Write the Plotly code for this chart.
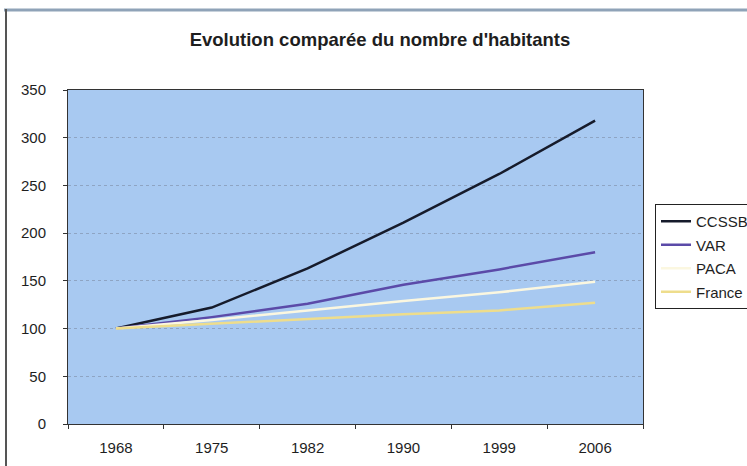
import plotly.graph_objects as go

# Population index, base 100 in 1968
years = ["1968", "1975", "1982", "1990", "1999", "2006"]
ccssb = [100, 122, 163, 211, 262, 318]
var = [100, 112, 126, 146, 162, 180]
paca = [100, 109, 119, 129, 138, 149]
france = [100, 105, 110, 115, 119, 127]

series = [
    ("CCSSB", ccssb, "#161b2b"),
    ("VAR", var, "#5b4aa8"),
    ("PACA", paca, "#fbf7e0"),
    ("France", france, "#eedd8c"),
]

W, H = 747, 466
L, R, T, B = 68, 104, 90, 42
PW, PH = W - L - R, H - T - B


def px_x(x):
    return (x - L) / PW


def px_y(y):
    return (H - B - y) / PH


fig = go.Figure()
for i, (name, vals, col) in enumerate(series):
    fig.add_trace(go.Scatter(
        x=years, y=vals, name=name, mode="lines",
        line=dict(color=col, width=2.5),
        legendgroup=f"g{i}",
    ))

font = "Liberation Sans, Arial, sans-serif"

fig.update_layout(
    width=W, height=H,
    margin=dict(l=L, r=R, t=T, b=B, autoexpand=False),
    paper_bgcolor="white",
    plot_bgcolor="#a8c9f1",
    font=dict(family=font, size=15, color="#1e1e1e"),
    title=dict(
        text="<b>Evolution comparée du nombre d'habitants</b>",
        x=380 / W, xref="container", xanchor="center",
        y=1 - 40 / H, yref="container", yanchor="middle",
        font=dict(family=font, size=18.5, color="#1e1e1e"),
    ),
    showlegend=True,
    legend=dict(
        xref="container", yref="container",
        x=655 / W, y=1 - 204 / H, xanchor="left", yanchor="top",
        bgcolor="white", bordercolor="#222", borderwidth=1,
        font=dict(family=font, size=15, color="#1e1e1e"),
        itemwidth=30, tracegroupgap=1,
    ),
    xaxis=dict(
        type="category", range=[-0.5, 5.5],
        tickson="boundaries", ticks="outside", ticklen=4,
        tickcolor="#333", showline=True, linecolor="#333", linewidth=1,
        mirror=True, showgrid=False, zeroline=False,
        tickfont=dict(size=15), ticklabelstandoff=10,
    ),
    yaxis=dict(
        range=[0, 350], dtick=50, ticks="outside", ticklen=4,
        tickcolor="#333", showline=True, linecolor="#333", linewidth=1,
        mirror=True, showgrid=True, gridcolor="rgba(110,120,140,0.45)",
        griddash="dot", gridwidth=1, zeroline=False,
        tickfont=dict(size=15), ticklabelstandoff=14,
    ),
    shapes=[
        # outer chart frame: top and left edges
        dict(type="line", xref="paper", yref="paper",
             x0=px_x(4), x1=px_x(W), y0=px_y(10), y1=px_y(10),
             line=dict(color="#8fa3b8", width=3)),
        dict(type="line", xref="paper", yref="paper",
             x0=px_x(6), x1=px_x(6), y0=px_y(9), y1=px_y(H),
             line=dict(color="#555", width=2)),
    ],
)

fig.write_html("out.html")
